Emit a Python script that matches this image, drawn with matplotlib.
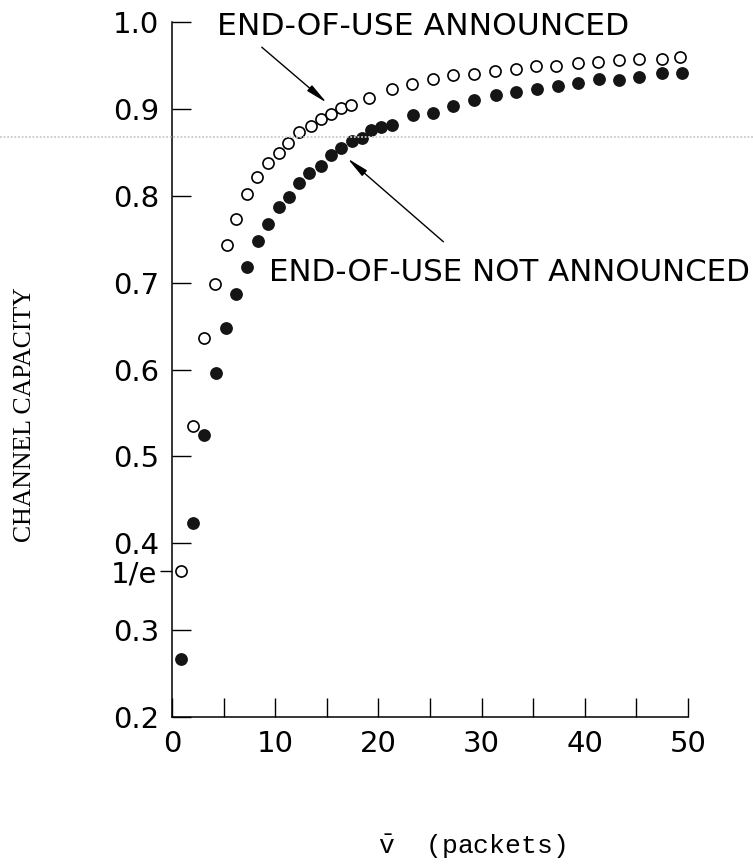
import matplotlib
matplotlib.use("Agg")
import matplotlib.pyplot as plt
from matplotlib.lines import Line2D
import numpy as np

plt.rcParams["mathtext.fontset"] = "custom"
plt.rcParams["mathtext.rm"] = "Liberation Mono"
plt.rcParams["mathtext.it"] = "Liberation Mono"

# ---- data ----
announced_x = [0.9, 2.0, 3.1, 4.2, 5.3, 6.2, 7.3, 8.2, 9.3, 10.4, 11.2, 12.3, 13.5, 14.4,
               15.4, 16.4, 17.3, 19.1, 21.3, 23.3, 25.3, 27.2, 29.3, 31.3, 33.3, 35.3,
               37.2, 39.3, 41.3, 43.3, 45.3, 47.5, 49.2]
announced_y = [0.368, 0.535, 0.636, 0.698, 0.743, 0.773, 0.802, 0.822, 0.838, 0.849, 0.861,
               0.873, 0.880, 0.888, 0.894, 0.901, 0.904, 0.913, 0.923, 0.929, 0.934, 0.939,
               0.940, 0.944, 0.946, 0.949, 0.949, 0.953, 0.954, 0.956, 0.957, 0.957, 0.960]

not_announced_x = [0.9, 2.0, 3.1, 4.3, 5.2, 6.2, 7.3, 8.3, 9.3, 10.4, 11.3, 12.3, 13.3, 14.4,
                   15.4, 16.4, 17.4, 18.4, 19.3, 20.3, 21.3, 23.4, 25.3, 27.2, 29.3, 31.4,
                   33.3, 35.4, 37.4, 39.3, 41.4, 43.3, 45.3, 47.5, 49.4]
not_announced_y = [0.267, 0.423, 0.525, 0.596, 0.648, 0.687, 0.718, 0.748, 0.767, 0.787, 0.799,
                   0.815, 0.826, 0.834, 0.847, 0.855, 0.863, 0.867, 0.876, 0.879, 0.881, 0.893,
                   0.895, 0.903, 0.910, 0.916, 0.919, 0.923, 0.926, 0.930, 0.934, 0.933, 0.937,
                   0.941, 0.941]

y_ticks = [0.2, 0.3, 0.4, 0.5, 0.6, 0.7, 0.8, 0.9, 1.0]
y_tick_labels = ["0.2", "0.3", "0.4", "0.5", "0.6", "0.7", "0.8", "0.9", "1.0"]
x_major = [0, 10, 20, 30, 40, 50]
x_major_labels = ["0", "10", "20", "30", "40", "50"]
x_minor = [5, 15, 25, 35, 45]
inv_e = 1 / np.e

label_announced = "END-OF-USE ANNOUNCED"
label_not_announced = "END-OF-USE NOT ANNOUNCED"

# ---- figure ----
fig = plt.figure(figsize=(7.53, 8.64), dpi=100)
ax = fig.add_axes([172 / 753, 1 - 717 / 864, (688 - 172) / 753, (717 - 22) / 864])

tick_font = dict(family="DejaVu Sans", size=21)

ax.plot(not_announced_x, not_announced_y, linestyle="none", marker="o", markersize=8.2,
        markerfacecolor="#151515", markeredgecolor="#151515", clip_on=False, zorder=3)
ax.plot(announced_x, announced_y, linestyle="none", marker="o", markersize=8.0,
        markerfacecolor="white", markeredgecolor="black", markeredgewidth=1.2,
        clip_on=False, zorder=4)

ax.set_xlim(0, 50)
ax.set_ylim(0.2, 1.0)
for s in ("top", "right"):
    ax.spines[s].set_visible(False)
for s in ("left", "bottom"):
    ax.spines[s].set_linewidth(1.1)

ax.set_yticks(y_ticks)
ax.set_yticklabels(y_tick_labels, fontdict=tick_font)
ax.set_xticks(x_major)
ax.set_xticklabels(x_major_labels, fontdict=tick_font)
ax.set_xticks(x_minor, minor=True)
ax.tick_params(axis="both", which="both", direction="in", length=14, width=1.0,
               pad=9, color="black")
ax.tick_params(axis="y", which="minor", left=False)

# 1/e tick (outward)
sec = ax.secondary_yaxis("left")
sec.spines["left"].set_visible(False)
sec.set_yticks([inv_e])
sec.set_yticklabels(["1/e"], fontdict=tick_font)
sec.tick_params(axis="y", direction="out", length=9, width=1.0, pad=2)

# annotations
ax.text(4.4, 0.995, label_announced, ha="left", va="center", family="DejaVu Sans", size=22.6)
ax.text(9.4, 0.712, label_not_announced, ha="left", va="center", clip_on=False,
        family="DejaVu Sans", size=22.2)

arrow_props = dict(arrowstyle="-|>,head_length=1.3,head_width=0.22", color="black",
                   lw=1.0, shrinkA=0, shrinkB=0)
ax.annotate("", xy=(15.0, 0.907), xytext=(8.7, 0.971), arrowprops=arrow_props)
ax.annotate("", xy=(17.0, 0.843), xytext=(26.3, 0.747), arrowprops=arrow_props)

# axis labels
fig.text(25 / 753, 1 - 415 / 864, "CHANNEL CAPACITY", rotation=90, ha="center", va="center",
         family="Liberation Serif", size=18.5)
fig.text(472 / 753, 1 - 846 / 864, r"$\bar{\mathrm{v}}$  (packets)", ha="center", va="center",
         family="Liberation Mono", size=19)

# faint scan line artifact
fig.add_artist(Line2D([0, 1], [1 - 137 / 864, 1 - 137 / 864], transform=fig.transFigure,
                      color="#c9c9c9", lw=1.3, linestyle=(0, (1, 1))))

fig.savefig("out.png", dpi=100)
